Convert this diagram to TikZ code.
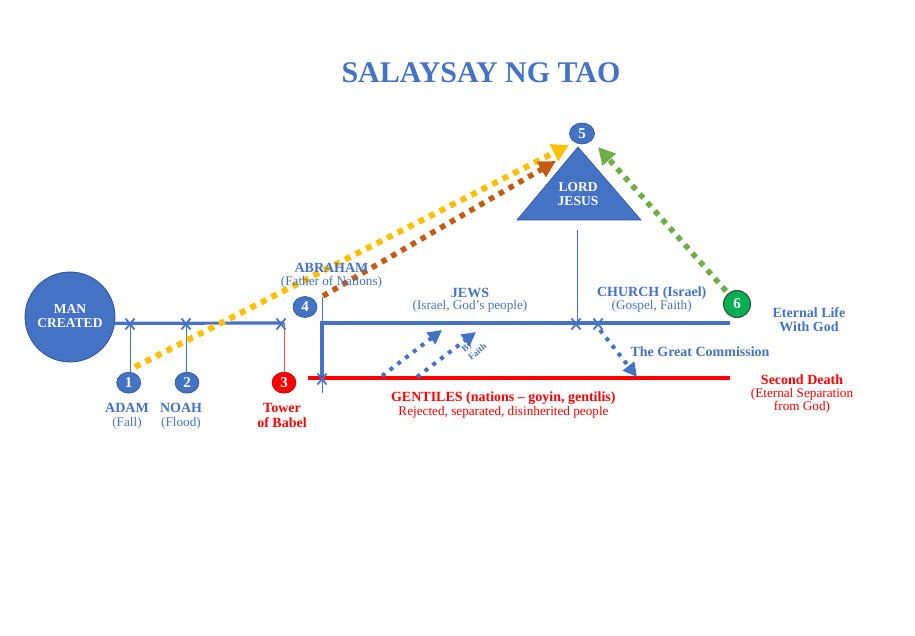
\documentclass[tikz,border=0pt]{standalone}
\usepackage{fontspec}
\setmainfont{Liberation Serif}
\usetikzlibrary{shapes.geometric,arrows.meta}
\definecolor{tblue}{HTML}{4472C4}
\definecolor{tdark}{HTML}{2F528F}
\definecolor{tred}{HTML}{FF0000}
\definecolor{tdred}{HTML}{C00000}
\definecolor{tpink}{HTML}{FF5050}
\definecolor{tyellow}{HTML}{FFC000}
\definecolor{torange}{HTML}{C55A11}
\definecolor{tgreen}{HTML}{70AD47}
\definecolor{tgreenc}{HTML}{00B050}
\begin{document}
\begin{tikzpicture}[x=1pt,y=-1pt,
  lbl/.style={text=tblue, font=\fontsize{13.2}{14}\selectfont, inner sep=0pt},
  blbl/.style={text=tblue, font=\bfseries\fontsize{14}{15}\selectfont, inner sep=0pt},
  rlbl/.style={lbl, text=tred},
  rblbl/.style={blbl, text=tred},
  numc/.style={ellipse, fill=tblue, draw=tdark, line width=0.6pt, minimum width=24pt, minimum height=21pt, inner sep=0pt, text=white, font=\bfseries\fontsize{15}{15}\selectfont},
  tline/.style={tblue, line width=3.2pt},
  thinb/.style={tblue, line width=0.9pt},
  dotarrow/.style={line width=#1, dash pattern=on #1 off 5.8pt},
  bluearrow/.style={tblue, dotarrow=4pt, -{Triangle[length=14pt,width=14pt]}},
  xm/.pic={\draw[tblue, line width=1.8pt] (-4.5,-5.5) -- (4.5,5.5) (-4.5,5.5) -- (4.5,-5.5);}
]
\useasboundingbox (0,0) rectangle (915,636);

% title
\node[text=tblue, font=\bfseries\fontsize{30}{32}\selectfont, inner sep=0pt] (title) at (481,73) {SALAYSAY NG TAO};

% man created
\node[circle, fill=tblue, draw=tdark, line width=0.8pt, minimum size=90pt, inner sep=0pt] (man) at (70,317) {};
\node[text=white, font=\bfseries\fontsize{13.5}{14}\selectfont, inner sep=0pt] (man1) at (70,309.5) {MAN};
\node[text=white, font=\bfseries\fontsize{13.5}{14}\selectfont, inner sep=0pt] (man2) at (70,323.5) {CREATED};

% coordinates
\coordinate (m1) at (130,324);
\coordinate (m2) at (186,324);
\coordinate (m3) at (281,324);
\coordinate (t3) at (284,323);
\coordinate (ab) at (322,297);
\coordinate (corner) at (322,323);
\coordinate (jend) at (730,323);
\coordinate (gx) at (322,379);
\coordinate (gbot) at (322,393);
\coordinate (rstart) at (308,378);
\coordinate (rend) at (730,378);
\coordinate (mj) at (576,324);
\coordinate (mc) at (598,324);
\coordinate (triTop) at (578,147);
\coordinate (triL) at (517,220);
\coordinate (triR) at (641,220);
\coordinate (jt) at (577,230);

% number circles
\node[numc] (n1) at (128.7,382.7) {1};
\node[numc] (n2) at (187,382.7) {2};
\node[numc, fill=tred, draw=tdred] (n3) at (284,382.7) {3};
\node[numc] (n4) at (305,307) {4};
\node[numc, minimum width=25pt, minimum height=21pt] (n5) at (582,133.5) {5};
\node[circle, fill=tgreenc, draw=black!75, line width=1pt, minimum size=27pt, inner sep=0pt, text=white, font=\bfseries\fontsize{15}{15}\selectfont] (n6) at (737,304) {6};

% timelines
\draw[tline] (man.-8) -- (t3);
\draw[thinb] (m1) -- (n1.north -| m1);
\draw[thinb] (m2) -- (n2.north -| m2);
\draw[tpink, line width=0.9pt] (t3) -- (n3.north);
\draw[thinb] (ab) -- (corner);
\draw[tblue, line width=3.6pt] (gx) -- (corner) -- (jend);
\draw[thinb] (gx) -- (gbot);
\draw[tred, line width=3.6pt] (rstart) -- (rend);
\draw[thinb] (jt) -- (jt |- mj);

\pic at (m1) {xm};
\pic at (m2) {xm};
\pic at (m3) {xm};
\pic at (gx) {xm};
\pic at (mj) {xm};
\pic at (mc) {xm};

% triangle
\filldraw[fill=tblue, draw=tdark, line width=0.6pt] (triTop) -- (triR) -- (triL) -- cycle;
\node[text=white, font=\bfseries\fontsize{13.5}{14}\selectfont, inner sep=0pt] (lord) at (578,186.7) {LORD};
\node[text=white, font=\bfseries\fontsize{13.5}{14}\selectfont, inner sep=0pt] (jesus) at (578,200.7) {JESUS};

% dotted arrows to Jesus
\coordinate (ys) at (135,367);
\coordinate (ye) at (569,145);
\coordinate (os) at (323,296);
\coordinate (oe) at (556,161);
\coordinate (gs) at (726,291);
\coordinate (ge) at (598,147);
\draw[tyellow, dotarrow=6pt, -{Triangle[length=17pt,width=18pt]}] (ys) -- (ye);
\draw[torange, dotarrow=5.5pt, -{Triangle[length=17pt,width=17pt]}] (os) -- (oe);
\draw[tgreen, dotarrow=5.5pt, -{Triangle[length=17pt,width=17pt]}] (gs) -- (ge);

% blue arrows
\coordinate (b1s) at (382,376);
\coordinate (b1e) at (442,330);
\coordinate (b2s) at (417,377);
\coordinate (b2e) at (476,332);
\coordinate (gcs) at (600,330);
\coordinate (gce) at (637,377);
\draw[bluearrow] (b1s) -- (b1e);
\draw[bluearrow] (b2s) -- (b2e);
\draw[bluearrow] (gcs) -- (gce);
\node[text=tblue, font=\bfseries\fontsize{9}{10.5}\selectfont, inner sep=0pt, align=left, rotate=40] (faith) at (474,348) {By\\Faith};

% labels
\node[blbl] (adam) at (127,408) {ADAM};
\node[lbl] (fall) at (127,423) {(Fall)};
\node[blbl] (noah) at (181,408) {NOAH};
\node[lbl] (flood) at (181,423) {(Flood)};
\node[rblbl] (tower) at (282,408) {Tower};
\node[rblbl] (babel) at (282,422.5) {of Babel};
\node[blbl] (abr) at (331.5,268) {ABRAHAM};
\node[lbl] (fon) at (331.5,282) {(Father of Nations)};
\node[blbl] (jews) at (470,292.7) {JEWS};
\node[lbl] (isr) at (470,306.7) {(Israel, God’s people)};
\node[blbl] (church) at (651.7,292.7) {CHURCH (Israel)};
\node[lbl] (gospel) at (651.7,306.5) {(Gospel, Faith)};
\node[blbl] (el1) at (809,312.7) {Eternal Life};
\node[blbl] (el2) at (809,326.5) {With God};
\node[blbl] (gc) at (700,351.7) {The Great Commission};
\node[rblbl] (sd1) at (802,379.3) {Second Death};
\node[rlbl] (sd2) at (802,394) {(Eternal Separation};
\node[rlbl] (sd3) at (802,407.5) {from God)};
\node[rblbl] (gent) at (503.3,398.3) {GENTILES (nations – goyin, gentilis)};
\node[rlbl] (rej) at (503.5,412.7) {Rejected, separated, disinherited people};
\end{tikzpicture}
\end{document}
